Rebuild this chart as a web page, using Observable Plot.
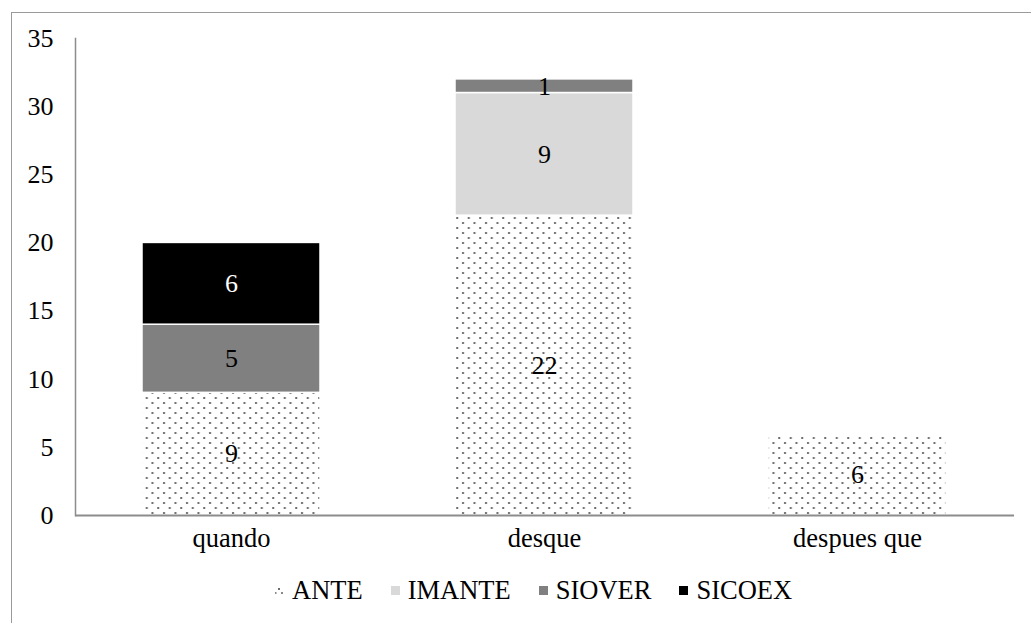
<!DOCTYPE html>
<html>
<head>
<meta charset="utf-8">
<script src="https://cdn.jsdelivr.net/npm/d3@7"></script>
<script src="https://cdn.jsdelivr.net/npm/@observablehq/plot@0.6"></script>
<style>
  html, body { margin: 0; padding: 0; background: #fff; overflow: hidden; }
  #wrap { position: relative; width: 1031px; height: 623px; font-family: "Liberation Serif", "Tinos", "DejaVu Serif", "Times New Roman", serif; }
  #border { position: absolute; left: 11px; top: 12px; width: 1100px; height: 700px; border-left: 1.5px solid #9a9a9a; border-top: 1.5px solid #9a9a9a; pointer-events: none; }
  #chart { position: absolute; left: 0; top: 0; }
  #legend { position: absolute; left: 275px; top: 576px; display: flex; align-items: center; font-size: 26.5px; line-height: 28px; color: #000; }
  .item { display: flex; align-items: center; margin-right: 28px; }
  .sw { width: 9px; height: 9px; margin-right: 8px; }
  #chart svg text { font-family: "Liberation Serif", "Tinos", "DejaVu Serif", "Times New Roman", serif; }
</style>
</head>
<body>
<div id="wrap">
  <div id="border"></div>
  <div id="chart"></div>
  <div id="legend"></div>
</div>
<script>
const categories = ["quando", "desque", "despues que"];
const series = ["ANTE", "IMANTE", "SIOVER", "SICOEX"];
const ANTE = [9, 22, 6];
const IMANTE = [0, 9, 0];
const SIOVER = [5, 1, 0];
const SICOEX = [6, 0, 0];
const yTicks = [0, 5, 10, 15, 20, 25, 30, 35];
const seriesColors = ["url(#dots)", "#d9d9d9", "#808080", "#000000"];

const valuesBySeries = {ANTE, IMANTE, SIOVER, SICOEX};
const data = [];
series.forEach(s => {
  categories.forEach((c, i) => {
    const v = valuesBySeries[s][i];
    if (v > 0) data.push({category: c, series: s, value: v});
  });
});

const serif = '"Liberation Serif", "Tinos", "DejaVu Serif", "Times New Roman", serif';

const plot = Plot.plot({
  width: 1031,
  height: 565,
  marginLeft: 75,
  marginRight: 17,
  marginTop: 38,
  marginBottom: 50,
  style: {fontFamily: serif, fontSize: "26px", color: "#000", background: "transparent"},
  x: {domain: categories, paddingInner: 0.43, paddingOuter: 0.215, label: null},
  y: {domain: [0, 35], ticks: yTicks, label: null},
  color: {domain: series, range: seriesColors},
  marks: [
    Plot.axisY({ticks: yTicks, tickSize: 0, tickPadding: 22, label: null, fontSize: 26}),
    Plot.axisX({tickSize: 0, tickPadding: 13, label: null, fontSize: 26.5}),
    Plot.barY(data, Plot.stackY({x: "category", y: "value", z: "series", order: series, fill: "series", stroke: "white", strokeWidth: 1.5})),
    Plot.text(data, Plot.stackY({x: "category", y: "value", z: "series", order: series, text: d => String(d.value), fill: d => d.series === "SICOEX" ? "white" : "black", fontSize: 26})),
    Plot.frame({anchor: "left", stroke: "#8c8c8c", strokeWidth: 1.5}),
    Plot.ruleY([0], {stroke: "#8c8c8c", strokeWidth: 2})
  ]
});

// pattern definition for ANTE
const ns = "http://www.w3.org/2000/svg";
const defs = document.createElementNS(ns, "defs");
defs.innerHTML = `
  <pattern id="dots" patternUnits="userSpaceOnUse" width="11.5" height="10">
    <rect width="11.5" height="10" fill="#ffffff"/>
    <rect x="2" y="2" width="2" height="2" fill="#6e6e6e"/>
    <rect x="7.75" y="7" width="2" height="2" fill="#6e6e6e"/>
  </pattern>`;
plot.insertBefore(defs, plot.firstChild);
document.getElementById("chart").appendChild(plot);

// legend
const legend = document.getElementById("legend");
series.forEach((s, i) => {
  const item = document.createElement("div");
  item.className = "item";
  const sw = document.createElementNS(ns, "svg");
  sw.setAttribute("class", "sw");
  sw.setAttribute("width", "9");
  sw.setAttribute("height", "9");
  if (s === "ANTE") {
    sw.innerHTML = `<rect width="9" height="9" fill="#fff"/><rect x="3" y="2" width="2" height="2" fill="#6e6e6e"/><rect x="6" y="6" width="2" height="2" fill="#8a8a8a"/><rect x="0" y="6" width="1.5" height="2" fill="#8a8a8a"/>`;
  } else {
    sw.innerHTML = `<rect width="9" height="9" fill="${seriesColors[i]}"/>`;
  }
  const t = document.createElement("span");
  t.textContent = s;
  item.appendChild(sw);
  item.appendChild(t);
  legend.appendChild(item);
});
</script>
</body>
</html>
